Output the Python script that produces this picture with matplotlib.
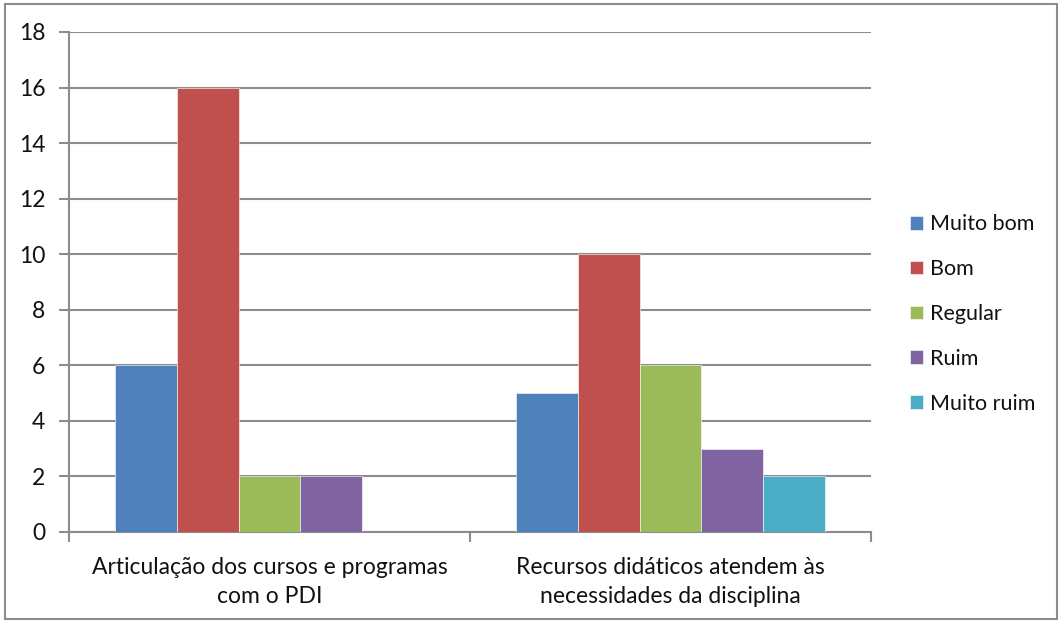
import matplotlib
matplotlib.use("Agg")
import matplotlib.pyplot as plt
import numpy as np
from matplotlib.patches import Rectangle

categories = ["Articulação dos cursos e programas\ncom o PDI",
              "Recursos didáticos atendem às\nnecessidades da disciplina"]
series_names = ["Muito bom", "Bom", "Regular", "Ruim", "Muito ruim"]
muito_bom = [6, 5]
bom = [16, 10]
regular = [2, 6]
ruim = [2, 3]
muito_ruim = [0, 2]
colors = ["#4F81BD", "#C0504D", "#9BBB59", "#8064A2", "#4BACC6"]
yticks = [0, 2, 4, 6, 8, 10, 12, 14, 16, 18]

plt.rcParams['font.family'] = ['Lato', 'DejaVu Sans']
FS = 16.5
LFS = 15.5

fig = plt.figure(figsize=(10.63, 6.23), dpi=100)
W, H = 1063, 623
ax = fig.add_axes([69 / W, 1 - 532 / H, (871 - 69) / W, (532 - 32) / H])

data = [muito_bom, bom, regular, ruim, muito_ruim]
x = np.arange(len(categories))
w = 1 / 6.5
for i, (name, vals, c) in enumerate(zip(series_names, data, colors)):
    ax.bar(x + (i - 2) * w, vals, width=w, color=c, label=name, zorder=3,
           edgecolor='white', linewidth=0.4)

ax.set_xlim(-0.5, 1.5)
ax.set_ylim(0, 18)
ax.set_yticks(yticks)
ax.set_yticklabels([str(t) for t in yticks], fontsize=FS, color='#111111')
ax.yaxis.grid(True, color='#8C8C8C', linewidth=1.5, zorder=0)
ax.set_axisbelow(True)

ax.set_xticks([-0.5, 0.5, 1.5])
ax.set_xticklabels([])
ax.set_xticks(x, minor=True)
ax.set_xticklabels(categories, minor=True, fontsize=FS, linespacing=1.45, color='#111111')
ax.tick_params(axis='x', which='minor', length=0, pad=18)
ax.tick_params(axis='x', which='major', length=7, color='#8C8C8C', width=1.5, direction='out')
ax.tick_params(axis='y', length=7, color='#8C8C8C', width=1.5, pad=10)

for s in ['top', 'right']:
    ax.spines[s].set_visible(False)
for s in ['left', 'bottom']:
    ax.spines[s].set_color('#8C8C8C')
    ax.spines[s].set_linewidth(1.5)

leg = fig.legend(loc='center left', bbox_to_anchor=(910 / W, 1 - 314 / H),
                 frameon=False, fontsize=LFS, handlelength=0.6, handleheight=0.6,
                 handletextpad=0.35, labelspacing=1.15, borderpad=0, borderaxespad=0)
for t in leg.get_texts():
    t.set_color('#111111')

fig.patches.append(Rectangle((5 / W, 4 / H), (1057 - 5) / W, (619 - 4) / H,
                             transform=fig.transFigure, fill=False,
                             edgecolor='#8C8C8C', linewidth=1.5))

fig.savefig("out.png", dpi=100)
